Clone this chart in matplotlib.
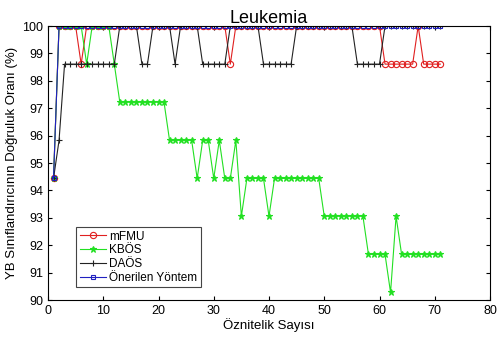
import matplotlib
matplotlib.use("Agg")
import matplotlib.pyplot as plt
import numpy as np

plt.rcParams['font.family'] = ['Liberation Sans', 'DejaVu Sans']

# accuracy levels for 72 samples
L100 = 100.0
L986 = 98.61
L972 = 97.22
L958 = 95.83
L944 = 94.44
L931 = 93.06
L917 = 91.67
L903 = 90.28

featureCounts = list(range(1, 72))

mfmu = ([L944] + [L100] * 4 + [L986] + [L100] * 26 + [L986] + [L100] * 27
        + [L986] * 6 + [L100] + [L986] * 4)

kbos = ([L944] + [L100] * 5 + [L986] + [L100] * 4 + [L986] + [L972] * 9
        + [L958] * 5 + [L944] + [L958] * 2 + [L944] + [L958] + [L944] * 2
        + [L958] + [L931] + [L944] * 4 + [L931] + [L944] * 9 + [L931] * 8
        + [L917] * 4 + [L903] + [L931] + [L917] * 8)

daos = ([L944, L958] + [L986] * 10 + [L100] * 4 + [L986] * 2 + [L100] * 4
        + [L986] + [L100] * 4 + [L986] * 5 + [L100] * 6 + [L986] * 6
        + [L100] * 11 + [L986] * 5 + [L100] * 11)

onerilen = [L944] + [L100] * 70

seriesNames = ["mFMU", "KBÖS", "DAÖS", "Önerilen Yöntem"]

fig = plt.figure(figsize=(5.0, 3.38), dpi=100)
ax = fig.add_axes([0.096, 0.112, 0.884, 0.811])

ax.plot(featureCounts, mfmu, color="#e02020", marker="o", markersize=4.5,
        markerfacecolor="none", markeredgewidth=0.8, linewidth=0.8, label=seriesNames[0])
ax.plot(featureCounts, kbos, color="#22e022", marker="*", markersize=4.5,
        markeredgewidth=0.8, linewidth=0.8, label=seriesNames[1])
ax.plot(featureCounts, daos, color="#222222", marker="+", markersize=5,
        markeredgewidth=0.8, linewidth=0.8, label=seriesNames[2])
ax.plot(featureCounts, onerilen, color="#2020c0", marker="s", markersize=3.5,
        markerfacecolor="none", markeredgewidth=0.8, linewidth=0.8, label=seriesNames[3])

ax.set_xlim(0, 80)
ax.set_ylim(90, 100)
ax.set_xticks(np.arange(0, 81, 10))
ax.set_yticks(np.arange(90, 101, 1))
ax.tick_params(direction="in", top=True, right=True, labelsize=9, length=3)
for s in ax.spines.values():
    s.set_linewidth(0.8)

ax.set_title("Leukemia", fontsize=13, pad=2)
ax.set_xlabel("Öznitelik Sayısı", fontsize=9.5, labelpad=1)
ax.set_ylabel("YB Sınıflandırıcının Doğruluk Oranı (%)", fontsize=9.5, labelpad=3)

leg = ax.legend(loc="lower left", bbox_to_anchor=(0.05, 0.025), fontsize=8.5,
                fancybox=False, framealpha=1, edgecolor="#444444",
                handlelength=2.2, borderpad=0.3, labelspacing=0.15, handletextpad=0.3)
leg.get_frame().set_linewidth(0.8)

fig.savefig("out.png", dpi=100)
